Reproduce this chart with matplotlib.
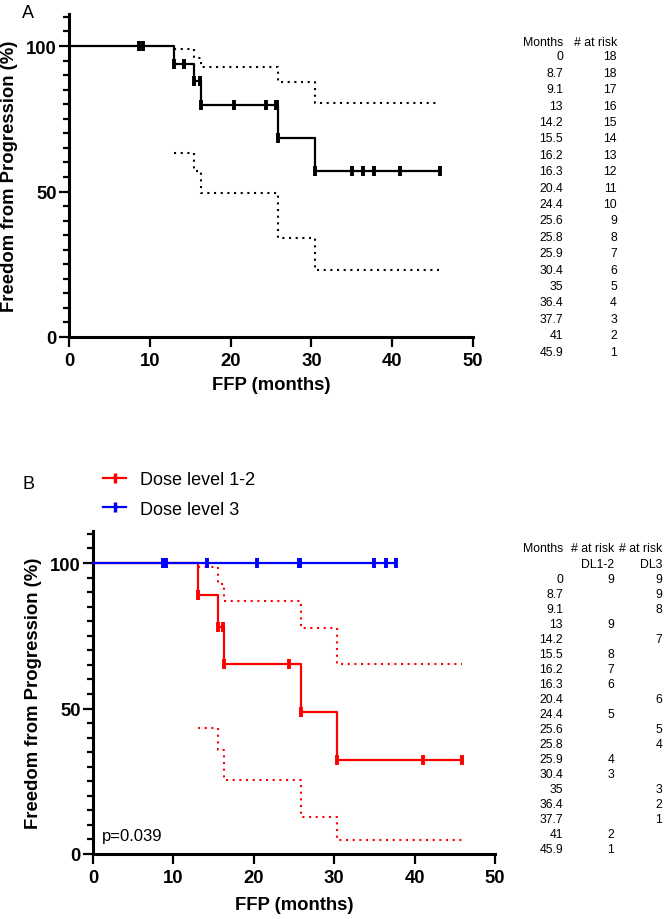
import numpy as np
import matplotlib
matplotlib.use("Agg")
import matplotlib.pyplot as plt
from matplotlib.lines import Line2D
from matplotlib.ticker import MultipleLocator

# ---- Panel A: all patients ----
step_t_a = [0, 13, 15.5, 16.3, 25.9, 30.4, 45.9]
step_s_a = [100, 93.9, 88.0, 79.8, 68.4, 57.0, 57.0]
ci_t_a = [13, 15.5, 16.3, 25.9, 30.4, 45.9]
ci_hi_a = [99.1, 96.0, 92.9, 87.6, 80.4, 80.4]
ci_lo_a = [63.1, 57.0, 49.4, 33.9, 23.1, 23.1]
mark_t_a = [8.7, 9.1, 13, 14.2, 15.5, 16.2, 16.3, 20.4, 24.4, 25.6, 25.8,
            25.9, 30.4, 35, 36.4, 37.7, 41, 45.9]

# ---- Panel B: by dose level ----
step_t_dl12 = [0, 13, 15.5, 16.3, 25.9, 30.4, 45.9]
step_s_dl12 = [100, 88.9, 78.0, 65.2, 48.7, 32.3, 32.3]
ci_t_dl12 = [13, 15.5, 16.3, 25.9, 30.4, 45.9]
ci_hi_dl12 = [98.6, 92.9, 87.0, 77.5, 65.2, 65.2]
ci_lo_dl12 = [43.3, 35.9, 25.3, 12.8, 4.9, 4.9]
mark_t_dl12 = [13, 15.5, 16.2, 16.3, 24.4, 25.9, 30.4, 41, 45.9]

step_t_dl3 = [0, 37.7]
step_s_dl3 = [100, 100]
mark_t_dl3 = [8.7, 9.1, 14.2, 20.4, 25.6, 25.8, 35, 36.4, 37.7]

# ---- number at risk tables ----
table_months = ["0", "8.7", "9.1", "13", "14.2", "15.5", "16.2", "16.3", "20.4",
                "24.4", "25.6", "25.8", "25.9", "30.4", "35", "36.4", "37.7",
                "41", "45.9"]
at_risk_all = ["18", "18", "17", "16", "15", "14", "13", "12", "11", "10",
               "9", "8", "7", "6", "5", "4", "3", "2", "1"]
at_risk_dl12 = ["9", "", "", "9", "", "8", "7", "6", "", "5", "", "", "4",
                "3", "", "", "", "2", "1"]
at_risk_dl3 = ["9", "9", "8", "", "7", "", "", "", "6", "", "5", "4", "",
               "", "3", "2", "1", "", ""]

plt.rcParams.update({
    "font.family": ["Liberation Sans", "DejaVu Sans"],
    "axes.linewidth": 2.2,
})

W, H = 666, 920
fig = plt.figure(figsize=(W / 100, H / 100), dpi=100)


def px_box(x0, x1, y_top, y_bot):
    return [x0 / W, 1 - y_bot / H, (x1 - x0) / W, (y_bot - y_top) / H]


def value_at(t_steps, s_steps, t):
    idx = np.searchsorted(t_steps, t, side="right") - 1
    return np.asarray(s_steps)[idx]


def style_axis(ax):
    ax.set_xlim(0, 50)
    ax.set_ylim(0, 111)
    ax.spines["top"].set_visible(False)
    ax.spines["right"].set_visible(False)
    ax.set_xticks([0, 10, 20, 30, 40, 50])
    ax.set_yticks([0, 50, 100])
    ax.yaxis.set_minor_locator(MultipleLocator(5))
    ax.tick_params(axis="both", which="major", direction="out", length=7,
                   width=1.6, labelsize=13.3)
    ax.tick_params(axis="y", which="minor", direction="out", length=4.5,
                   width=1.6)
    ax.tick_params(axis="x", pad=3.5)
    ax.tick_params(axis="y", pad=2)
    for lab in ax.get_xticklabels() + ax.get_yticklabels():
        lab.set_fontweight("bold")
    ax.set_xlabel("FFP (months)", fontsize=13.3, fontweight="bold")
    ax.set_ylabel("Freedom from Progression (%)", fontsize=13.3,
                  fontweight="bold")
    ax.yaxis.set_label_coords(-0.127, 0.5)
    ax.patch.set_alpha(0)


def draw_curve(ax, t, s, marks, ci_t=None, hi=None, lo=None, color="black"):
    ax.step(t, s, where="post", color=color, lw=1.6, clip_on=False, zorder=3)
    ax.plot(marks, value_at(t, s, marks), ls="none", marker="|", ms=7,
            mew=2.8, color=color, clip_on=False, zorder=4)
    if ci_t is not None:
        for band in (hi, lo):
            ax.step(ci_t, band, where="post", color=color, lw=1.5,
                    ls=(0, (1, 2.2)), zorder=2)


# ---- Panel A ----
ax_a = fig.add_axes(px_box(69, 473, 15, 338))
draw_curve(ax_a, step_t_a, step_s_a, mark_t_a, ci_t_a, ci_hi_a, ci_lo_a)
style_axis(ax_a)
ax_a.xaxis.set_label_coords(0.5, -0.122)
fig.text(22 / W, 1 - 14 / H, "A", fontsize=13, va="center", ha="left")

# table A
fig.text(563 / W, 1 - 43 / H, "Months", fontsize=8.8, ha="right", va="center")
fig.text(617 / W, 1 - 43 / H, "# at risk", fontsize=8.8, ha="right", va="center")
for i, (m, r) in enumerate(zip(table_months, at_risk_all)):
    y = 57.3 + i * 16.41
    fig.text(563 / W, 1 - y / H, m, fontsize=8.8, ha="right", va="center")
    fig.text(617 / W, 1 - y / H, r, fontsize=8.8, ha="right", va="center")

# ---- Panel B ----
ax_b = fig.add_axes(px_box(93, 495, 532, 855))
draw_curve(ax_b, step_t_dl12, step_s_dl12, mark_t_dl12, ci_t_dl12,
           ci_hi_dl12, ci_lo_dl12, color="#ff0000")
draw_curve(ax_b, step_t_dl3, step_s_dl3, mark_t_dl3, color="#0000ff")
style_axis(ax_b)
ax_b.xaxis.set_label_coords(0.5, -0.13)
ax_b.text(1.15, 6.5, "p=0.039", fontsize=12, ha="left", va="center")
fig.text(22 / W, 1 - 485 / H, "B", fontsize=13, va="center", ha="left")

handles = [
    Line2D([], [], color="#ff0000", lw=1.6, marker="|", ms=7, mew=2.5),
    Line2D([], [], color="#0000ff", lw=1.6, marker="|", ms=7, mew=2.5),
]
fig.legend(handles, ["Dose level 1-2", "Dose level 3"], loc="upper left",
           bbox_to_anchor=(103 / W, 1 - 472 / H), frameon=False, fontsize=13,
           handlelength=1.3, handletextpad=0.75, labelspacing=0.7,
           borderpad=0, borderaxespad=0)

# table B
fig.text(563 / W, 1 - 549 / H, "Months", fontsize=8.8, ha="right", va="center")
fig.text(614 / W, 1 - 549 / H, "# at risk", fontsize=8.8, ha="right", va="center")
fig.text(662 / W, 1 - 549 / H, "# at risk", fontsize=8.8, ha="right", va="center")
fig.text(614 / W, 1 - 565 / H, "DL1-2", fontsize=8.8, ha="right", va="center")
fig.text(662 / W, 1 - 565 / H, "DL3", fontsize=8.8, ha="right", va="center")
for i, (m, r1, r3) in enumerate(zip(table_months, at_risk_dl12, at_risk_dl3)):
    y = 580 + i * 15.0
    fig.text(563 / W, 1 - y / H, m, fontsize=8.8, ha="right", va="center")
    fig.text(614 / W, 1 - y / H, r1, fontsize=8.8, ha="right", va="center")
    fig.text(662 / W, 1 - y / H, r3, fontsize=8.8, ha="right", va="center")

fig.savefig("out.png", dpi=100)
